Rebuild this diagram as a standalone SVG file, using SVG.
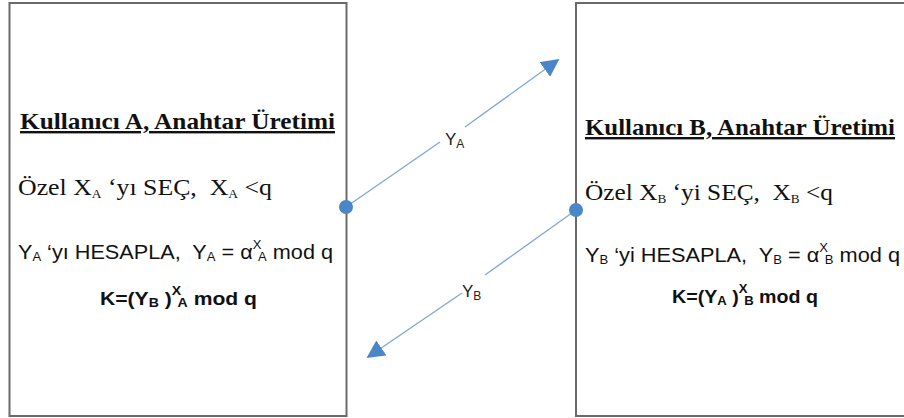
<svg xmlns="http://www.w3.org/2000/svg" width="904" height="418" viewBox="0 0 904 418">
<defs>
<style>
.box{fill:#fff;stroke:#6a6a6a;stroke-width:2}
.title{font-family:"Liberation Serif",serif;font-weight:bold;font-size:24px;fill:#111;text-decoration:underline}
.ser{font-family:"Liberation Serif",serif;font-size:23px;fill:#111}
.sans{font-family:"Liberation Sans",sans-serif;font-size:20px;fill:#111}
.bold{font-family:"Liberation Sans",sans-serif;font-size:18px;font-weight:bold;fill:#111}
.lbl{font-family:"Liberation Sans",sans-serif;font-size:17px;fill:#222}
.sub{font-size:12px}
.conn{stroke:#7fa7d4;stroke-width:1.3;fill:none}
.dot{fill:#4a86c8}
</style>
<marker id="ah" viewBox="0 0 10 10" refX="9" refY="5" markerWidth="18" markerHeight="18" markerUnits="userSpaceOnUse" orient="auto">
<path d="M0,0 L10,5 L0,10 z" fill="#4a86c8"/>
</marker>
</defs>
<rect width="904" height="418" fill="#fff"/>
<g id="userA">
<rect class="box" x="9.5" y="3" width="337" height="413"/>
<text class="title" x="20" y="129" textLength="315" lengthAdjust="spacingAndGlyphs">Kullanıcı A, Anahtar Üretimi</text>
<text class="ser" x="18" y="195" xml:space="preserve" textLength="254" lengthAdjust="spacingAndGlyphs">Özel X<tspan class="sub" dy="3">A</tspan><tspan dy="-3"> ‘yı SEÇ,  X</tspan><tspan class="sub" dy="3">A</tspan><tspan dy="-3"> &lt;q</tspan></text>
<text class="sans" x="18" y="259" xml:space="preserve" textLength="315" lengthAdjust="spacingAndGlyphs">Y<tspan class="sub" dy="2">A</tspan><tspan dy="-2"> ‘yı HESAPLA,  Y</tspan><tspan class="sub" dy="2">A</tspan><tspan dy="-2"> = α</tspan><tspan class="sub" dy="-10">X</tspan><tspan class="sub" dx="-3" dy="12">A</tspan><tspan dy="-2"> mod q</tspan></text>
<text class="bold" x="100" y="305" textLength="157" lengthAdjust="spacingAndGlyphs">K=(Y<tspan class="sub" dy="2">B</tspan><tspan dy="-2"> )</tspan><tspan class="sub" dy="-10">X</tspan><tspan class="sub" dx="-3" dy="12">A</tspan><tspan dy="-2"> mod q</tspan></text>
</g>
<g id="userB">
<rect class="box" x="576" y="3" width="340" height="413" stroke="#333"/>
<text class="title" x="585" y="135" textLength="310" lengthAdjust="spacingAndGlyphs">Kullanıcı B, Anahtar Üretimi</text>
<text class="ser" x="585" y="200" xml:space="preserve" textLength="248" lengthAdjust="spacingAndGlyphs">Özel X<tspan class="sub" dy="3">B</tspan><tspan dy="-3"> ‘yi SEÇ,  X</tspan><tspan class="sub" dy="3">B</tspan><tspan dy="-3"> &lt;q</tspan></text>
<text class="sans" x="585" y="262" xml:space="preserve" textLength="315" lengthAdjust="spacingAndGlyphs">Y<tspan class="sub" dy="2">B</tspan><tspan dy="-2"> ‘yi HESAPLA,  Y</tspan><tspan class="sub" dy="2">B</tspan><tspan dy="-2"> = α</tspan><tspan class="sub" dy="-10">X</tspan><tspan class="sub" dx="-3" dy="12">B</tspan><tspan dy="-2"> mod q</tspan></text>
<text class="bold" x="672" y="303" textLength="146" lengthAdjust="spacingAndGlyphs">K=(Y<tspan class="sub" dy="2">A</tspan><tspan dy="-2"> )</tspan><tspan class="sub" dy="-10">X</tspan><tspan class="sub" dx="-3" dy="12">B</tspan><tspan dy="-2"> mod q</tspan></text>
</g>
<g id="connectors">
<line class="conn" x1="346" y1="207" x2="440" y2="142"/>
<line class="conn" x1="465" y1="127" x2="558" y2="60" marker-end="url(#ah)"/>
<text class="lbl" x="445" y="145">Y<tspan class="sub" dy="3">A</tspan></text>
<line class="conn" x1="576" y1="210" x2="485" y2="275"/>
<line class="conn" x1="462" y1="293" x2="368" y2="357" marker-end="url(#ah)"/>
<text class="lbl" x="462" y="297">Y<tspan class="sub" dy="3">B</tspan></text>
<circle class="dot" cx="346" cy="207" r="7"/>
<circle class="dot" cx="576" cy="210" r="7"/>
</g>
</svg>
